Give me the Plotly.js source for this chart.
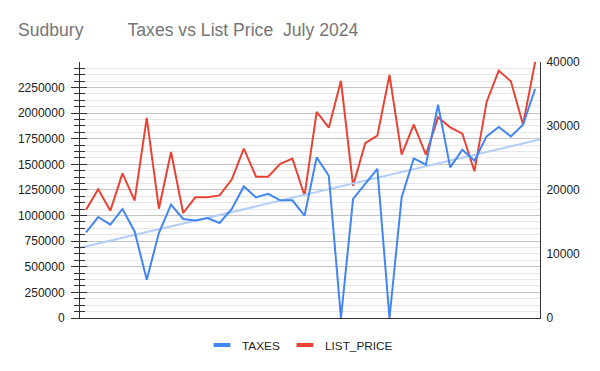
<!DOCTYPE html>
<html>
<head>
<meta charset="utf-8">
<script src="https://cdn.plot.ly/plotly-3.0.1.min.js"></script>
<style>html,body{margin:0;padding:0;background:#fff;}#chart{width:600px;height:371px;}</style>
</head>
<body>
<div id="chart"></div>
<script>
// Values (one point per listing, left to right)
const TAXES = [13375, 15780, 14580, 17030, 13530, 5985, 13280, 17700, 15470, 15250,
  15625, 14840, 17030, 20560, 18840, 19400, 18380, 18380, 15980, 25100,
  22230, 0, 18600, 20960, 23300, 0, 18840, 24940, 23950, 33330,
  23530, 26300, 24580, 28380, 29840, 28380, 30200, 35780];
const LIST_PRICE = [1058000, 1256000, 1048000, 1412000, 1146000, 1953000, 1067000, 1621000, 1025000, 1178000,
  1178000, 1197000, 1351000, 1653000, 1380000, 1380000, 1504000, 1555000, 1196000, 2013000,
  1858000, 2315000, 1290000, 1707000, 1780000, 2372000, 1595000, 1888000, 1595000, 1959000,
  1861000, 1800000, 1432000, 2109000, 2415000, 2311000, 1888000, 2500000];
const SERIES_NAMES = ['TAXES', 'LIST_PRICE'];
const TITLE = 'Sudbury\u00a0\u00a0\u00a0\u00a0\u00a0\u00a0\u00a0\u00a0\u00a0Taxes vs List Price\u00a0\u00a0July 2024';

const X = TAXES.map((_, i) => i);
const XRANGE = [-0.5, 37.4];

// least-squares trendline for TAXES
const n = X.length;
const mx = X.reduce((a, b) => a + b, 0) / n;
const my = TAXES.reduce((a, b) => a + b, 0) / n;
let sxy = 0, sxx = 0;
for (let i = 0; i < n; i++) { sxy += (X[i] - mx) * (TAXES[i] - my); sxx += (X[i] - mx) ** 2; }
const slope = sxy / sxx, icpt = my - slope * mx;
const trendX = XRANGE.slice();
const trendY = trendX.map(x => icpt + slope * x);

const BLUE = '#4285F4', RED = '#EA4335';
const FONT = 'Liberation Sans, Arial, sans-serif';

const data = [
  {x: trendX, y: trendY, yaxis: 'y2', mode: 'lines', line: {color: '#b3cdf9', width: 2}, showlegend: false, hoverinfo: 'skip'},
  {x: X, y: LIST_PRICE, yaxis: 'y', mode: 'lines', line: {color: RED, width: 2}, showlegend: false, name: SERIES_NAMES[1]},
  {x: X, y: TAXES, yaxis: 'y2', mode: 'lines', line: {color: BLUE, width: 2}, showlegend: false, name: SERIES_NAMES[0]},
  {x: [null], y: [null], mode: 'markers', name: SERIES_NAMES[0], marker: {symbol: 'line-ew', size: 12, line: {color: BLUE, width: 4}}},
  {x: [null], y: [null], mode: 'markers', name: SERIES_NAMES[1], marker: {symbol: 'line-ew', size: 12, line: {color: RED, width: 4}}},
  {x: [null], y: [null], yaxis: 'y3', showlegend: false, mode: 'lines'}
];

const layout = {
  width: 600, height: 371,
  margin: {l: 80, r: 60, t: 62, b: 53},
  paper_bgcolor: '#fff', plot_bgcolor: '#fff',
  font: {family: FONT, size: 12, color: '#222'},
  title: {text: TITLE, x: 18/600, xanchor: 'left', xref: 'container', y: 1 - 30/371, yanchor: 'middle', yref: 'container',
          font: {family: FONT, size: 17.6, color: '#757575'}},
  showlegend: true,
  legend: {orientation: 'h', x: 0.5, xanchor: 'center', xref: 'container', y: 1 - 345/371, yanchor: 'middle', yref: 'container',
           font: {family: FONT, size: 11.8, color: '#222'}, itemclick: false},
  xaxis: {range: XRANGE, showgrid: false, zeroline: false, showticklabels: false, ticks: '',
          showline: true, linecolor: '#333', linewidth: 1},
  yaxis: {range: [0, 2499000], tickmode: 'linear', tick0: 0, dtick: 250000, tickformat: 'd',
          showgrid: true, gridcolor: '#c4c4c4', gridwidth: 1, zeroline: false,
          showline: true, linecolor: '#333', linewidth: 1,
          ticks: 'outside', ticklen: 8, tickcolor: '#333', ticklabelstandoff: 4,
          minor: {dtick: 62500, showgrid: true, gridcolor: '#e6e6e6', ticks: 'outside', ticklen: 5, tickcolor: '#333'},
          tickfont: {family: FONT, size: 12, color: '#222'}},
  yaxis3: {overlaying: 'y', side: 'left', range: [0, 2499000], tickmode: 'linear', tick0: 0, dtick: 250000,
           showgrid: false, zeroline: false, showline: false, showticklabels: false,
           ticks: 'inside', ticklen: 7, tickcolor: '#333',
           minor: {dtick: 62500, showgrid: false, ticks: 'inside', ticklen: 5, tickcolor: '#333'}},
  yaxis2: {overlaying: 'y', side: 'right', range: [0, 40000], tickmode: 'linear', tick0: 0, dtick: 10000,
           showgrid: false, zeroline: false, showline: true, linecolor: '#333', linewidth: 1, ticks: '',
           tickformat: 'd', ticklabelstandoff: 3, tickfont: {family: FONT, size: 12, color: '#222'}},
  hovermode: false
};

Plotly.newPlot('chart', data, layout, {staticPlot: true, displayModeBar: false});
</script>
</body>
</html>
